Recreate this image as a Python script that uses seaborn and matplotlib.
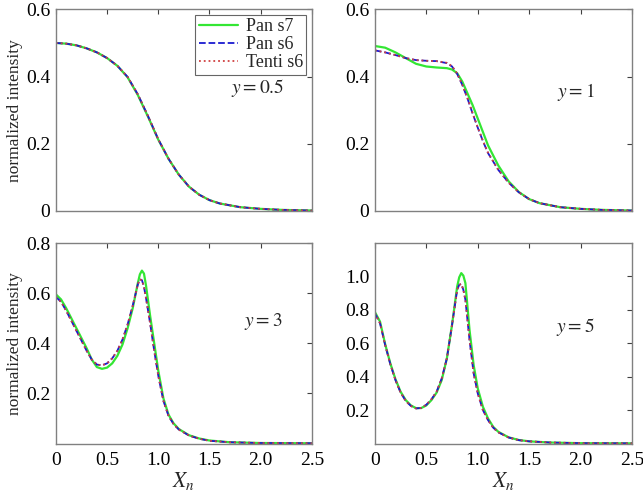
import numpy as np
import pandas as pd
import matplotlib
matplotlib.use("Agg")
import matplotlib.pyplot as plt
import seaborn as sns

# ---------------- data ----------------
series_names = ["Pan s7", "Pan s6", "Tenti s6"]
panel_labels = ["$y = 0.5$", "$y = 1$", "$y = 3$", "$y = 5$"]
x_ticks = [0, 0.5, 1.0, 1.5, 2.0, 2.5]
x_tick_labels = ["0", "0.5", "1.0", "1.5", "2.0", "2.5"]

# panel y = 0.5
x_a = [0, 0.1, 0.2, 0.3, 0.4, 0.5, 0.6, 0.7, 0.8, 0.9, 1.0, 1.1, 1.2, 1.3, 1.4, 1.5, 1.6, 1.8, 2.0, 2.2, 2.5]
a_pan7 = [0.500, 0.498, 0.493, 0.484, 0.472, 0.455, 0.432, 0.398, 0.345, 0.280, 0.212, 0.155, 0.108, 0.072, 0.048, 0.032, 0.022, 0.011, 0.006, 0.003, 0.001]
a_pan6 = [0.500, 0.498, 0.493, 0.484, 0.472, 0.455, 0.432, 0.399, 0.347, 0.282, 0.213, 0.155, 0.108, 0.072, 0.048, 0.032, 0.022, 0.011, 0.006, 0.003, 0.001]
a_tenti = [0.500, 0.498, 0.493, 0.484, 0.472, 0.455, 0.432, 0.399, 0.347, 0.282, 0.213, 0.155, 0.108, 0.072, 0.048, 0.032, 0.022, 0.011, 0.006, 0.003, 0.001]

# panel y = 1
x_b = [0, 0.1, 0.2, 0.3, 0.4, 0.5, 0.6, 0.7, 0.75, 0.8, 0.85, 0.9, 0.95, 1.0, 1.05, 1.1, 1.2, 1.3, 1.4, 1.5, 1.6, 1.8, 2.0, 2.2, 2.5]
b_pan7 = [0.491, 0.486, 0.472, 0.455, 0.438, 0.430, 0.427, 0.425, 0.421, 0.410, 0.385, 0.350, 0.315, 0.275, 0.235, 0.195, 0.135, 0.088, 0.056, 0.035, 0.023, 0.011, 0.006, 0.003, 0.001]
b_pan6 = [0.478, 0.472, 0.464, 0.455, 0.449, 0.447, 0.446, 0.440, 0.430, 0.408, 0.375, 0.335, 0.290, 0.248, 0.208, 0.172, 0.122, 0.084, 0.055, 0.035, 0.023, 0.011, 0.006, 0.003, 0.001]
b_tenti = [0.478, 0.472, 0.464, 0.455, 0.449, 0.447, 0.446, 0.441, 0.431, 0.409, 0.376, 0.336, 0.291, 0.249, 0.209, 0.173, 0.122, 0.084, 0.055, 0.035, 0.023, 0.011, 0.006, 0.003, 0.001]

# panel y = 3
x_c = [0, 0.05, 0.1, 0.15, 0.2, 0.25, 0.3, 0.35, 0.4, 0.45, 0.5, 0.55, 0.6, 0.65, 0.7, 0.75, 0.8, 0.82, 0.84, 0.86, 0.88, 0.92, 0.96, 1.0, 1.05, 1.1, 1.15, 1.2, 1.3, 1.4, 1.5, 1.7, 2.0, 2.5]
c_pan7 = [0.595, 0.575, 0.540, 0.500, 0.460, 0.420, 0.380, 0.335, 0.305, 0.298, 0.303, 0.320, 0.350, 0.395, 0.460, 0.540, 0.640, 0.675, 0.690, 0.678, 0.630, 0.510, 0.400, 0.290, 0.180, 0.115, 0.080, 0.058, 0.033, 0.020, 0.012, 0.005, 0.002, 0.001]
c_pan6 = [0.585, 0.565, 0.530, 0.490, 0.450, 0.410, 0.370, 0.335, 0.315, 0.312, 0.320, 0.340, 0.370, 0.415, 0.475, 0.550, 0.635, 0.655, 0.652, 0.625, 0.580, 0.480, 0.370, 0.270, 0.170, 0.110, 0.077, 0.056, 0.032, 0.019, 0.011, 0.005, 0.002, 0.001]
c_tenti = [0.585, 0.565, 0.530, 0.490, 0.450, 0.410, 0.370, 0.335, 0.315, 0.312, 0.320, 0.340, 0.370, 0.415, 0.475, 0.550, 0.635, 0.655, 0.652, 0.625, 0.580, 0.480, 0.370, 0.270, 0.170, 0.110, 0.077, 0.056, 0.032, 0.019, 0.011, 0.005, 0.002, 0.001]

# panel y = 5
x_d = [0, 0.05, 0.1, 0.15, 0.2, 0.25, 0.3, 0.35, 0.4, 0.45, 0.5, 0.55, 0.6, 0.65, 0.7, 0.75, 0.8, 0.82, 0.84, 0.86, 0.88, 0.92, 0.96, 1.0, 1.05, 1.1, 1.15, 1.2, 1.3, 1.4, 1.5, 1.7, 2.0, 2.5]
d_pan7 = [0.787, 0.730, 0.595, 0.480, 0.385, 0.310, 0.260, 0.228, 0.212, 0.212, 0.228, 0.260, 0.305, 0.380, 0.510, 0.710, 0.940, 0.995, 1.020, 1.005, 0.960, 0.680, 0.470, 0.330, 0.220, 0.150, 0.100, 0.070, 0.037, 0.021, 0.013, 0.006, 0.002, 0.001]
d_pan6 = [0.780, 0.720, 0.590, 0.475, 0.380, 0.305, 0.255, 0.225, 0.210, 0.213, 0.232, 0.265, 0.310, 0.390, 0.510, 0.710, 0.920, 0.950, 0.955, 0.920, 0.860, 0.620, 0.420, 0.300, 0.200, 0.140, 0.095, 0.067, 0.036, 0.020, 0.013, 0.006, 0.002, 0.001]
d_tenti = [0.780, 0.720, 0.590, 0.475, 0.380, 0.305, 0.255, 0.225, 0.210, 0.213, 0.232, 0.265, 0.310, 0.390, 0.510, 0.710, 0.920, 0.950, 0.955, 0.920, 0.860, 0.620, 0.420, 0.300, 0.200, 0.140, 0.095, 0.067, 0.036, 0.020, 0.013, 0.006, 0.002, 0.001]

panels = [
    (x_a, [a_pan7, a_pan6, a_tenti]),
    (x_b, [b_pan7, b_pan6, b_tenti]),
    (x_c, [c_pan7, c_pan6, c_tenti]),
    (x_d, [d_pan7, d_pan6, d_tenti]),
]
y_limits = [(0, 0.6), (0, 0.6), (0, 0.8), (0, 1.2)]
y_ticks = [[0, 0.2, 0.4, 0.6], [0, 0.2, 0.4, 0.6], [0.2, 0.4, 0.6, 0.8], [0.2, 0.4, 0.6, 0.8, 1.0]]
y_tick_labels = [["0", "0.2", "0.4", "0.6"], ["0", "0.2", "0.4", "0.6"],
                 ["0.2", "0.4", "0.6", "0.8"], ["0.2", "0.4", "0.6", "0.8", "1.0"]]
label_pos = [(1.97, 0.367), (1.95, 0.355), (2.03, 0.485), (1.95, 0.70)]

# ---------------- style ----------------
sns.set_theme(style="white")
plt.rcParams["font.family"] = ["Liberation Serif", "DejaVu Serif"]
plt.rcParams["mathtext.fontset"] = "stix"

colors = ["#33e633", "#1a1ad0", "#d04040"]
styles = ["-", "--", ":"]
widths = [1.6, 1.3, 1.3]

fig = plt.figure(figsize=(6.43, 4.95), dpi=100)
boxes = [
    [0.087, 0.574, 0.398, 0.407],
    [0.583, 0.574, 0.400, 0.407],
    [0.087, 0.104, 0.398, 0.405],
    [0.583, 0.104, 0.400, 0.405],
]
spine_col = "#808080"
for i, (xs, ys_list) in enumerate(panels):
    ax = fig.add_axes(boxes[i])
    for j, ys in enumerate(ys_list):
        df = pd.DataFrame({"x": xs, "y": ys})
        sns.lineplot(data=df, x="x", y="y", ax=ax, color=colors[j],
                     linestyle=styles[j], linewidth=widths[j],
                     label=series_names[j], estimator=None, sort=False)
    ax.set_xlim(0, 2.5)
    ax.set_ylim(*y_limits[i])
    ax.set_xticks(x_ticks)
    ax.set_yticks(y_ticks[i])
    ax.set_yticklabels(y_tick_labels[i])
    if i >= 2:
        ax.set_xticklabels(x_tick_labels)
        ax.set_xlabel("$X_n$", fontsize=15.5, labelpad=1)
    else:
        ax.set_xticklabels([])
        ax.set_xlabel("")
    if i % 2 == 0:
        ax.set_ylabel("normalized intensity", fontsize=12.5, labelpad=2)
    else:
        ax.set_ylabel("")
    ax.tick_params(direction="in", top=True, right=True, length=3.5,
                   width=0.8, color="#404040", labelsize=14,
                   labelcolor="black")
    ax.tick_params(axis="x", pad=6)
    ax.tick_params(axis="y", pad=4)
    for s in ax.spines.values():
        s.set_color(spine_col)
        s.set_linewidth(1.0)
    ax.text(label_pos[i][0], label_pos[i][1], panel_labels[i], fontsize=14,
            ha="center", va="center")
    if i == 0:
        leg = ax.legend(loc="upper right", fontsize=13, frameon=True,
                        fancybox=False, borderpad=0.2, labelspacing=0.05,
                        handlelength=2.2, handletextpad=0.4,
                        borderaxespad=0.3)
        leg.get_frame().set_edgecolor("#404040")
        leg.get_frame().set_linewidth(0.8)
    else:
        ax.get_legend().remove()

fig.savefig("out.png", dpi=100)
